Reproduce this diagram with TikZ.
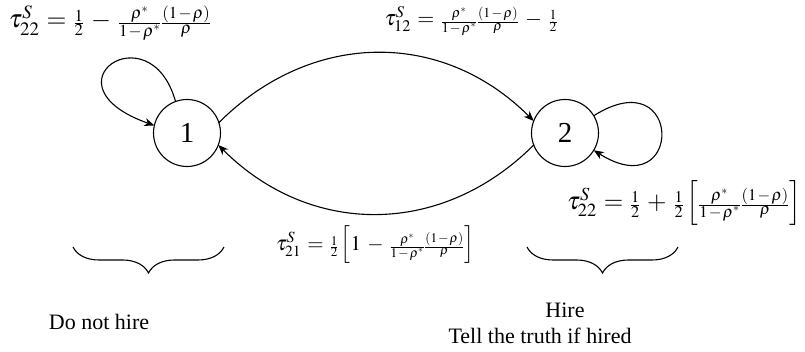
\documentclass[tikz,border=0pt]{standalone}
\usepackage{amsmath}
\usepackage{mathptmx}
\usepackage{fontspec}
\setmainfont{Liberation Serif}
\usetikzlibrary{arrows.meta,decorations.pathreplacing}
\newcommand{\bfr}[2]{\mbox{\fontsize{19}{22}\selectfont$\frac{\textstyle #1}{\textstyle #2}$}}
\newcommand{\sfr}[2]{\mbox{\fontsize{17}{20}\selectfont$\frac{\textstyle #1}{\textstyle #2}$}}
\newcommand{\mn}{\hskip1.5pt{-}\hskip1.5pt}
\newcommand{\gp}{\hskip8pt}
\newcommand{\gq}{\hskip8pt}
\tikzset{
  state/.style={circle,draw,line width=1.1pt,minimum size=67pt,inner sep=0pt,outer sep=0pt,font=\fontsize{29}{32}\selectfont},
  edge/.style={line width=1.1pt,-{Stealth[length=10pt,width=8pt,inset=3pt]}},
  bigeq/.style={inner sep=0pt,font=\fontsize{29}{33}\selectfont},
  smalleq/.style={inner sep=0pt,font=\fontsize{27}{31}\selectfont},
  lbl/.style={inner sep=0pt,anchor=base,font=\fontsize{22}{26}\selectfont},
  bracedeco/.style={line width=1.1pt,decorate,decoration={brace,mirror,amplitude=26pt}}
}
\begin{document}
\begin{tikzpicture}[x=1pt,y=-1pt]
\useasboundingbox (0,0) rectangle (805,352);
\node[state] (n1) at (187,133) {1};
\node[state] (n2) at (565,133) {2};
% transitions
\draw[edge] (n1.18) .. controls +(92,-92) and +(-92,-92) .. (n2.159);
\draw[edge] (n2.201) .. controls +(-92,92) and +(92,92) .. (n1.339);
\draw[edge] (n1.110) .. controls (150,10) and (40,85) .. (n1.167);
\draw[edge] (n2.31) .. controls +(90,-57) and +(90,57) .. (n2.329);
% equations
\node[bigeq] (e1) at (110,23) {\resizebox{202pt}{!}{$\tau^S_{22}\gp{=}\gp\bfr{1}{2}\gq{-}\gq\bfr{\rho^*}{1\mn\rho^*}\bfr{(1\mn\rho)}{\rho}$}};
\node[smalleq] (e2) at (471,21) {\resizebox{173pt}{!}{$\tau^S_{12}\gp{=}\gp\sfr{\rho^*}{1\mn\rho^*}\sfr{(1\mn\rho)}{\rho}\gq{-}\gq\sfr{1}{2}$}};
\node[bigeq] (e3) at (684,203) {\resizebox{234pt}{!}{$\tau^S_{22}\gp{=}\gp\bfr{1}{2}\gq{+}\gq\bfr{1}{2}\left[\bfr{\rho^*}{1\mn\rho^*}\bfr{(1\mn\rho)}{\rho}\right]$}};
\node[smalleq] (e4) at (375,245) {\resizebox{198pt}{!}{$\tau^S_{21}\gp{=}\gp\sfr{1}{2}\left[1\gq{-}\gq\sfr{\rho^*}{1\mn\rho^*}\sfr{(1\mn\rho)}{\rho}\right]$}};
% braces
\coordinate (b1l) at (73,247);
\coordinate (b1r) at (224,247);
\coordinate (b2l) at (527,247);
\coordinate (b2r) at (678,247);
\draw[bracedeco] (b1l) -- (b1r);
\draw[bracedeco] (b2l) -- (b2r);
% labels
\node[lbl] (t1) at (99,330) {Do not hire};
\node[lbl] (t2) at (565,317) {Hire};
\node[lbl] (t3) at (540,343) {Tell the truth if hired};
\end{tikzpicture}
\end{document}
